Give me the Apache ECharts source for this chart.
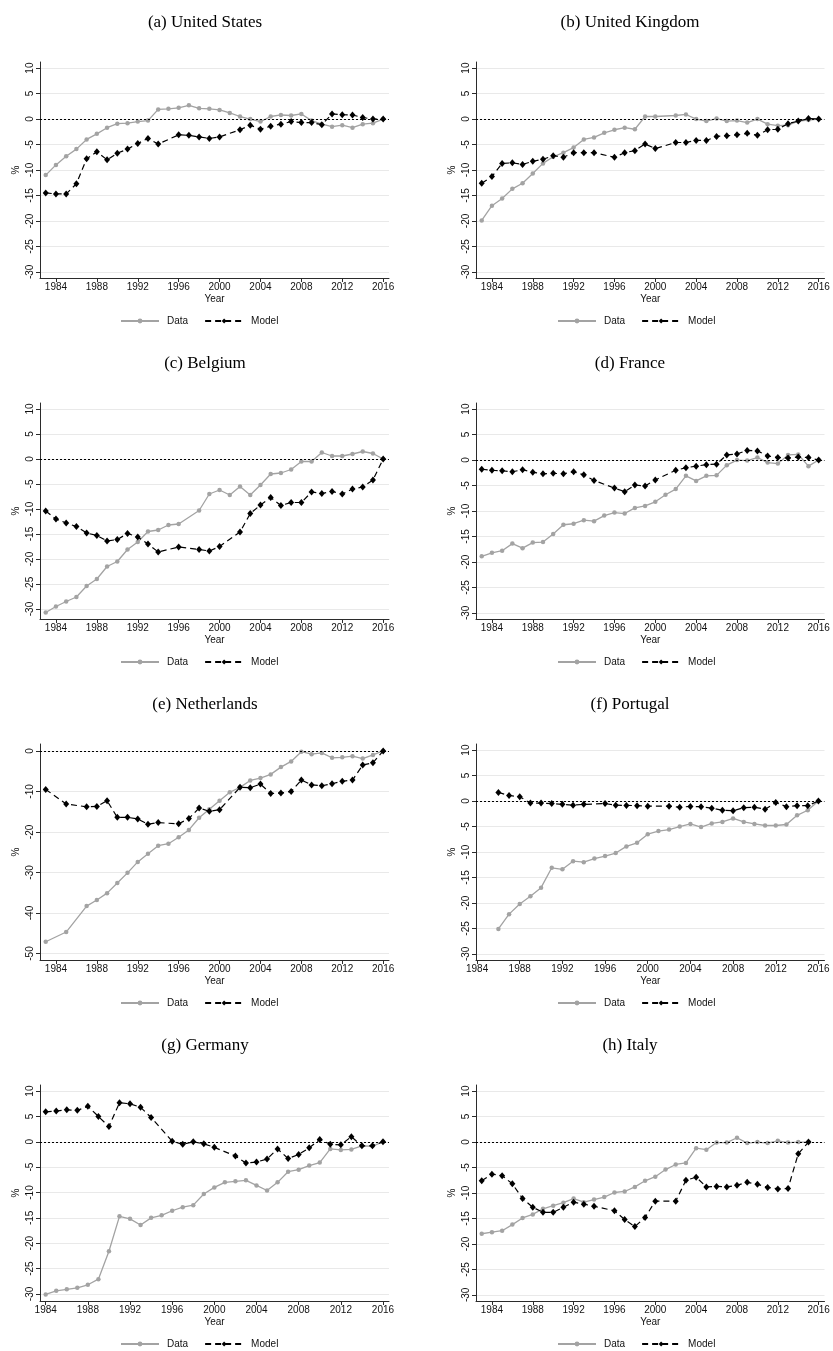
<!DOCTYPE html>
<html>
<head>
<meta charset="utf-8">
<title>Relative price gap, data vs model</title>
<script src="https://cdn.jsdelivr.net/npm/echarts@6/dist/echarts.min.js"></script>
<style>
  html, body { margin: 0; padding: 0; background: #fff; }
  #chart { width: 833px; height: 1351px; }
</style>
</head>
<body>
<div id="chart"></div>
<script>
// Tick labels
const yearTicks = [1984, 1988, 1992, 1996, 2000, 2004, 2008, 2012, 2016];
const pctTicks = [-30, -25, -20, -15, -10, -5, 0, 5, 10];
const pctTicksWide = [-50, -40, -30, -20, -10, 0];

// United States, 1983-2016
const usData = [-11.0, -9.0, -7.3, -5.9, -4.0, -2.9, -1.7, -0.9, -0.8, -0.5, -0.3, 1.9, 2.0, 2.2, 2.7, 2.1, 2.0, 1.8, 1.2, 0.5, 0.0, -0.5, 0.5, 0.8, 0.7, 1.0, -0.3, -1.0, -1.5, -1.2, -1.7, -1.0, -0.8, 0.0];
const usModel = [-14.5, -14.7, -14.7, -12.7, -7.8, -6.4, -8.0, -6.7, -5.9, -4.8, -3.8, -4.9, null, -3.1, -3.2, -3.5, -3.8, -3.5, null, -2.1, -1.2, -2.0, -1.4, -1.0, -0.5, -0.7, -0.7, -1.1, 1.0, 0.85, 0.8, 0.3, 0.0, 0.0];

// United Kingdom, 1983-2016
const ukData = [-19.9, -17.0, -15.6, -13.7, -12.6, -10.7, -8.7, -7.4, -6.6, -5.6, -4.0, -3.6, -2.7, -2.1, -1.7, -2.0, 0.5, 0.5, null, 0.7, 0.9, 0.0, -0.4, 0.1, -0.4, -0.3, -0.7, 0.0, -1.0, -1.3, -1.2, -0.4, -0.2, 0.0];
const ukModel = [-12.6, -11.3, -8.7, -8.6, -8.9, -8.3, -7.9, -7.2, -7.5, -6.6, -6.6, -6.6, null, -7.5, -6.6, -6.2, -4.9, -5.8, null, -4.6, -4.6, -4.2, -4.2, -3.4, -3.3, -3.1, -2.8, -3.2, -2.1, -2.0, -0.9, -0.4, 0.1, 0.0];

// Belgium, 1983-2016
const beData = [-30.7, -29.5, -28.5, -27.6, -25.4, -24.0, -21.5, -20.5, -18.1, -16.6, -14.5, -14.2, -13.2, -13.0, null, -10.3, -7.0, -6.2, -7.2, -5.5, -7.2, -5.2, -3.0, -2.8, -2.1, -0.5, -0.5, 1.3, 0.6, 0.6, 1.0, 1.5, 1.1, 0.0];
const beModel = [-10.4, -12.0, -12.8, -13.5, -14.8, -15.3, -16.4, -16.1, -14.9, -15.6, -17.0, -18.6, null, -17.6, null, -18.1, -18.4, -17.5, null, -14.6, -10.9, -9.2, -7.7, -9.3, -8.7, -8.7, -6.6, -6.9, -6.5, -7.0, -6.0, -5.6, -4.2, 0.0];

// France, 1983-2016
const frData = [-18.9, -18.2, -17.8, -16.4, -17.3, -16.2, -16.1, -14.5, -12.7, -12.5, -11.8, -12.0, -10.9, -10.3, -10.5, -9.4, -9.0, -8.2, -6.8, -5.7, -3.1, -4.1, -3.1, -3.0, -1.0, 0.0, -0.1, 0.5, -0.5, -0.7, 1.0, 1.1, -1.2, 0.0];
const frModel = [-1.8, -2.0, -2.1, -2.3, -1.9, -2.4, -2.7, -2.6, -2.7, -2.3, -2.9, -4.0, null, -5.5, -6.2, -4.9, -5.1, -3.9, null, -2.0, -1.5, -1.2, -0.9, -0.8, 1.0, 1.2, 1.9, 1.8, 0.8, 0.5, 0.4, 0.6, 0.5, 0.0];

// Netherlands, 1983-2016
const nlData = [-47.1, null, -44.7, null, -38.3, -36.8, -35.1, -32.6, -30.1, -27.4, -25.4, -23.4, -22.9, -21.3, -19.5, -16.5, -14.4, -12.3, -10.2, -9.0, -7.3, -6.7, -5.8, -4.0, -2.6, -0.2, -0.8, -0.5, -1.7, -1.6, -1.3, -1.9, -1.0, 0.0];
const nlModel = [-9.5, null, -13.1, null, -13.8, -13.7, -12.3, -16.4, -16.4, -16.8, -18.1, -17.7, null, -18.0, -16.7, -14.1, -14.9, -14.5, null, -9.0, -9.1, -8.2, -10.5, -10.4, -10.0, -7.2, -8.4, -8.6, -8.1, -7.5, -7.2, -3.5, -2.9, 0.0];

// Portugal, 1986-2016
const ptData = [-25.1, -22.2, -20.2, -18.7, -17.0, -13.1, -13.4, -11.8, -12.0, -11.3, -10.8, -10.2, -8.9, -8.2, -6.5, -5.9, -5.6, -5.0, -4.5, -5.1, -4.4, -4.1, -3.4, -4.1, -4.5, -4.8, -4.8, -4.6, -2.8, -1.8, 0.0];
const ptModel = [1.7, 1.1, 0.85, -0.4, -0.4, -0.5, -0.65, -0.8, -0.65, null, -0.5, -0.8, -0.85, -0.9, -1.0, null, -1.0, -1.2, -1.05, -1.1, -1.4, -1.8, -1.9, -1.3, -1.2, -1.6, -0.3, -1.1, -0.9, -0.9, 0.0];

// Germany, 1984-2016
const deData = [-30.1, -29.4, -29.1, -28.8, -28.2, -27.1, -21.6, -14.7, -15.2, -16.4, -15.0, -14.5, -13.6, -12.9, -12.5, -10.3, -9.0, -8.0, -7.8, -7.6, -8.6, -9.6, -8.0, -5.9, -5.5, -4.7, -4.1, -1.4, -1.6, -1.5, -0.8, -0.85, 0.0];
const deModel = [5.9, 6.05, 6.3, 6.2, 7.0, 5.0, 3.0, 7.7, 7.5, 6.8, 4.8, null, 0.1, -0.5, 0.0, -0.4, -1.1, null, -2.8, -4.2, -4.0, -3.4, -1.4, -3.3, -2.5, -1.2, 0.45, -0.5, -0.6, 1.0, -0.8, -0.8, 0.0];

// Italy, 1983-2015
const itData = [-18.0, -17.7, -17.4, -16.2, -14.9, -14.2, -13.1, -12.5, -11.9, -11.1, -11.8, -11.3, -10.8, -9.9, -9.7, -8.8, -7.6, -6.8, -5.4, -4.4, -4.1, -1.2, -1.5, -0.1, -0.1, 0.85, -0.2, 0.0, -0.2, 0.25, -0.1, 0.0, 0.0];
const itModel = [-7.6, -6.3, -6.6, -8.2, -11.1, -12.8, -13.8, -13.8, -12.8, -11.8, -12.2, -12.6, null, -13.5, -15.2, -16.6, -14.8, -11.6, null, -11.6, -7.5, -6.9, -8.8, -8.7, -8.8, -8.5, -7.9, -8.3, -8.9, -9.2, -9.1, -2.3, 0.0];

const panels = [
  { title: '(a) United States', first: 1983, data: usData, model: usModel, ticks: pctTicks, yMin: -31.2, yMax: 11.2, xMin: 1982.44 },
  { title: '(b) United Kingdom', first: 1983, data: ukData, model: ukModel, ticks: pctTicks, yMin: -31.2, yMax: 11.2, xMin: 1982.44 },
  { title: '(c) Belgium', first: 1983, data: beData, model: beModel, ticks: pctTicks, yMin: -32.0, yMax: 11.2, xMin: 1982.44 },
  { title: '(d) France', first: 1983, data: frData, model: frModel, ticks: pctTicks, yMin: -31.2, yMax: 11.2, xMin: 1982.44 },
  { title: '(e) Netherlands', first: 1983, data: nlData, model: nlModel, ticks: pctTicksWide, yMin: -51.6, yMax: 1.7, xMin: 1982.44 },
  { title: '(f) Portugal', first: 1986, data: ptData, model: ptModel, ticks: pctTicks, yMin: -31.2, yMax: 11.2, xMin: 1983.9 },
  { title: '(g) Germany', first: 1984, data: deData, model: deModel, ticks: pctTicks, yMin: -31.4, yMax: 11.2, xMin: 1983.46 },
  { title: '(h) Italy', first: 1983, data: itData, model: itModel, ticks: pctTicks, yMin: -31.2, yMax: 11.2, xMin: 1982.44 }
];

// Page layout (pixels)
const colLeft = [40, 476];
const colWidth = [349, 348.5];
const colCenter = [205, 630];
const legendLeft = [120, 557];
const rowTop = [62, 403, 744, 1085];
const plotHeight = 216;
const xMax = 2016.57;

const sans = 'Liberation Sans, Arial, Helvetica, sans-serif';
const serif = 'Liberation Serif, Times New Roman, serif';
const axisColor = '#2b2b2b';
const dataColor = '#a3a3a3';
const labelSize = 10;

function pairs(first, values) {
  return values
    .map((v, k) => [first + k, v])
    .filter(p => p[1] !== null);
}

const grid = [], xAxis = [], yAxis = [], series = [], title = [], legend = [];

panels.forEach((p, i) => {
  const col = i % 2, row = Math.floor(i / 2);
  const top = rowTop[row];

  grid.push({ left: colLeft[col], top: top, width: colWidth[col], height: plotHeight });

  title.push({
    text: p.title,
    left: colCenter[col],
    top: top - 48,
    padding: 0,
    textAlign: 'center',
    textStyle: { fontFamily: serif, fontSize: 17, fontWeight: 'normal', color: '#000' }
  });

  legend.push({
    data: ['Data', 'Model'],
    left: legendLeft[col],
    top: top + 254,
    padding: 0,
    itemWidth: 38,
    itemHeight: 6,
    itemGap: 16,
    selectedMode: false,
    textStyle: { fontFamily: sans, fontSize: labelSize, color: '#111', padding: [0, 0, 0, 3] }
  });

  xAxis.push({
    type: 'value', gridIndex: i, min: p.xMin, max: xMax,
    name: 'Year', nameLocation: 'middle', nameGap: 16,
    nameTextStyle: { fontFamily: sans, fontSize: labelSize, color: '#111' },
    axisLine: { show: true, onZero: false, lineStyle: { color: axisColor, width: 1 } },
    axisTick: { show: true, length: 4, customValues: yearTicks, lineStyle: { color: axisColor } },
    axisLabel: {
      customValues: yearTicks, margin: 4,
      fontFamily: sans, fontSize: labelSize, color: '#111',
      formatter: v => String(v)
    },
    splitLine: { show: false }
  });

  yAxis.push({
    type: 'value', gridIndex: i, min: p.yMin, max: p.yMax,
    name: '%', nameLocation: 'middle', nameGap: 19, nameRotate: 90,
    nameTextStyle: { fontFamily: sans, fontSize: labelSize, color: '#111' },
    axisLine: { show: true, onZero: false, lineStyle: { color: axisColor, width: 1 } },
    axisTick: { show: true, length: 4, customValues: p.ticks, lineStyle: { color: axisColor } },
    axisLabel: {
      customValues: p.ticks, rotate: 90, margin: 5,
      fontFamily: sans, fontSize: labelSize, color: '#111',
      formatter: v => String(v)
    },
    splitLine: { show: true, lineStyle: { color: '#e9e9e9', width: 1 } }
  });

  series.push({
    name: 'Data', type: 'line', xAxisIndex: i, yAxisIndex: i,
    data: pairs(p.first, p.data),
    connectNulls: true,
    symbol: 'circle', symbolSize: 4.5, showAllSymbol: true,
    lineStyle: { color: dataColor, width: 1.3 },
    itemStyle: { color: dataColor },
    z: 2,
    markLine: {
      silent: true, symbol: 'none', animation: false,
      label: { show: false },
      lineStyle: { color: '#000', type: [2, 2], width: 1 },
      data: [{ yAxis: 0 }]
    }
  });

  series.push({
    name: 'Model', type: 'line', xAxisIndex: i, yAxisIndex: i,
    data: pairs(p.first, p.model),
    connectNulls: true,
    symbol: 'diamond', symbolSize: [6, 7], showAllSymbol: true,
    lineStyle: { color: '#000', width: 1.2, type: [6, 4] },
    itemStyle: { color: '#000' },
    z: 3
  });
});

const chart = echarts.init(document.getElementById('chart'), null, { renderer: 'canvas' });
chart.setOption({
  animation: false,
  backgroundColor: '#fff',
  title, legend, grid, xAxis, yAxis, series
});
</script>
</body>
</html>
